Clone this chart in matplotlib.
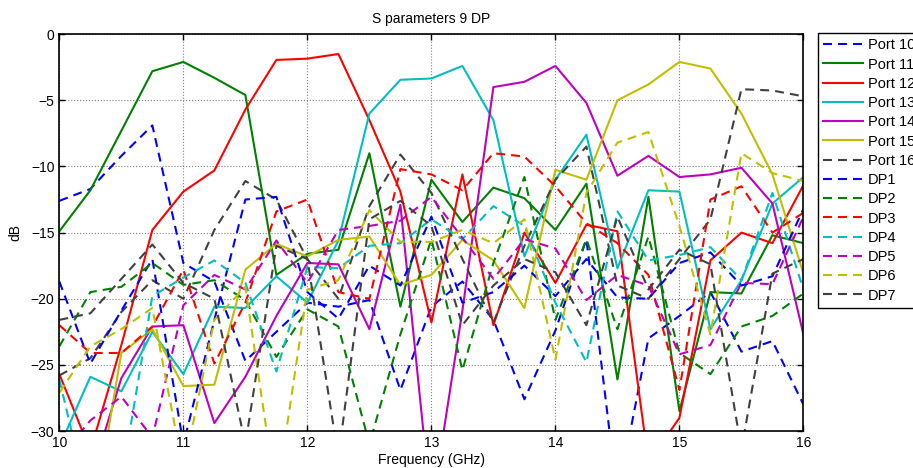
import numpy as np
import matplotlib
matplotlib.use("Agg")
import matplotlib.pyplot as plt

# frequency points, every 0.25 GHz
freq = np.arange(10, 16.01, 0.25)

port10 = [-12.6, -11.7, -9.2, -6.9, -17.3, -18.7, -24.7, -22.5, -20.3, -20.6, -20.1, -26.9, -20.6,
          -18.7, -21.6, -27.6, -22.4, -15.5, -35, -23, -21.3, -19.5, -24, -23.2, -28]
port11 = [-14.9, -11.8, -7.3, -2.8, -2.1, -3.3, -4.6, -18.2, -16.6, -16.3, -9.0, -20.6, -11.0,
          -14.2, -11.6, -12.4, -14.8, -11.3, -26.1, -12.3, -28.5, -19.5, -19.6, -15.2, -15.8]
port12 = [-25.7, -31.5, -23.5, -14.8, -11.9, -10.3, -5.7, -1.95, -1.85, -1.5, -6.5, -11.9, -21.8,
          -10.6, -22.0, -15.0, -18.8, -14.4, -14.9, -32.4, -29.0, -17.1, -15.0, -15.8, -11.4]
port13 = [-31.2, -25.9, -27.0, -22.5, -25.7, -20.6, -20.7, -18.3, -20.3, -15.6, -6.0, -3.45, -3.35,
          -2.4, -6.5, -16.8, -11.0, -7.6, -17.7, -11.8, -11.9, -22.3, -18.6, -12.8, -10.8]
port14 = [-36, -33.6, -26.0, -22.1, -22.0, -29.4, -25.9, -21.3, -17.3, -17.4, -22.3, -12.9, -36,
          -20.9, -4.0, -3.6, -2.4, -5.2, -10.7, -9.2, -10.8, -10.6, -10.1, -12.8, -22.7]
port15 = [-40, -38, -24.1, -22.3, -26.6, -26.5, -17.8, -15.85, -16.8, -15.55, -15.3, -18.95, -18.2,
          -15.55, -17.1, -20.7, -10.25, -11.0, -5.0, -3.8, -2.1, -2.6, -6.0, -10.6, -18.1]
port16 = [-25.8, -24.5, -21.0, -18.6, -20.0, -14.8, -11.1, -12.5, -17.0, -20.0, -13.0, -9.1, -12.0,
          -17.0, -21.8, -16.0, -11.0, -8.5, -19.0, -20.0, -17.0, -14.0, -4.16, -4.26, -4.7]
dp1 = [-18.7, -24.9, -20.9, -17.0, -31, -21.6, -12.5, -12.3, -19.5, -21.5, -17.5, -19.0, -13.8,
       -20.3, -19.5, -17.5, -19.8, -17.0, -19.9, -20.0, -17.3, -16.5, -19.0, -18.3, -13.2]
dp2 = [-23.6, -19.5, -19.1, -17.3, -18.95, -18.6, -20.1, -24.4, -20.8, -22.1, -31, -22.7, -15.5,
       -25.4, -17.3, -10.8, -21.6, -15.5, -22.3, -15.3, -24.1, -25.7, -22.1, -21.3, -19.6]
dp3 = [-22.0, -24.1, -24.1, -22.1, -17.8, -24.9, -20.3, -13.4, -12.5, -19.5, -20.0, -10.2, -10.6,
       -11.8, -9.0, -9.25, -11.5, -14.3, -15.8, -18.2, -26.9, -12.5, -11.5, -15.0, -13.5]
dp4 = [-26.1, -36, -33.8, -19.8, -18.4, -17.1, -18.8, -25.5, -17.6, -17.7, -16.0, -15.8, -14.0,
       -15.5, -13.0, -14.5, -20.3, -24.8, -13.4, -17.1, -16.7, -16.1, -18.6, -12.0, -19.3]
dp5 = [-32, -29.2, -27.4, -30.5, -20.5, -18.2, -19.3, -15.6, -18.8, -14.8, -14.5, -14.1, -12.3,
       -15.4, -18.5, -15.5, -16.2, -20.1, -18.2, -19.0, -24.2, -23.5, -18.8, -18.9, -13.8]
dp6 = [-27.1, -23.6, -22.3, -20.7, -33, -21.6, -19.1, -35, -19.3, -18.6, -13.3, -15.7, -15.7,
       -14.8, -15.8, -14.0, -24.6, -12.0, -8.2, -7.4, -14.5, -22.7, -9.0, -10.5, -11.1]
dp7 = [-21.6, -21.1, -18.5, -15.9, -18.8, -20.0, -31, -16.0, -17.0, -32, -14.0, -12.6, -14.5,
       -22.0, -19.0, -17.0, -18.0, -22.0, -13.8, -19.3, -16.3, -17.4, -31.4, -18.1, -17.0]

names = ["Port 10", "Port 11", "Port 12", "Port 13", "Port 14", "Port 15", "Port 16",
         "DP1", "DP2", "DP3", "DP4", "DP5", "DP6", "DP7"]
series = [port10, port11, port12, port13, port14, port15, port16,
          dp1, dp2, dp3, dp4, dp5, dp6, dp7]

# matlab-ish colour order
cols = ["#0000ff", "#008000", "#ff0000", "#00bfbf", "#bf00bf", "#bfbf00", "#404040"]
styles = ["--", "-", "-", "-", "-", "-", "--"] + ["--"] * 7
colors = cols + cols

plt.rcParams["font.family"] = ["Liberation Sans", "DejaVu Sans"]
plt.rcParams["font.size"] = 10

fig = plt.figure(figsize=(9.13, 4.68), dpi=100)
ax = fig.add_axes([0.065, 0.079, 0.815, 0.848])

for name, vals, c, ls in zip(names, series, colors, styles):
    if ls == "--":
        ax.plot(freq, vals, color=c, lw=1.5, ls=ls, dashes=(4.3, 2.9), label=name)
    else:
        ax.plot(freq, vals, color=c, lw=1.5, ls=ls, label=name)

ax.set_xlim(10, 16)
ax.set_ylim(-30, 0)
ax.set_xticks(range(10, 17))
ax.set_yticks(range(-30, 1, 5))
ax.tick_params(direction="in", top=True, right=True, length=4, width=1)
ax.grid(True, ls=":", color="#808080", lw=0.8)
for s in ax.spines.values():
    s.set_linewidth(1.2)

ax.set_title("S parameters 9 DP", fontsize=10, pad=8)
ax.set_xlabel("Frequency (GHz)", labelpad=2)
ax.set_ylabel("dB", labelpad=6)

# legend sits outside the axes and runs past the right edge of the figure
leg = fig.legend(loc="upper left", bbox_to_anchor=(0.896, 0.929), borderaxespad=0,
                 fancybox=False, edgecolor="black", framealpha=1, handlelength=2.7,
                 handletextpad=0.35, borderpad=0.35, labelspacing=0.36, fontsize=10.5)
leg.get_frame().set_linewidth(1.0)

fig.savefig("out.png", dpi=100)
